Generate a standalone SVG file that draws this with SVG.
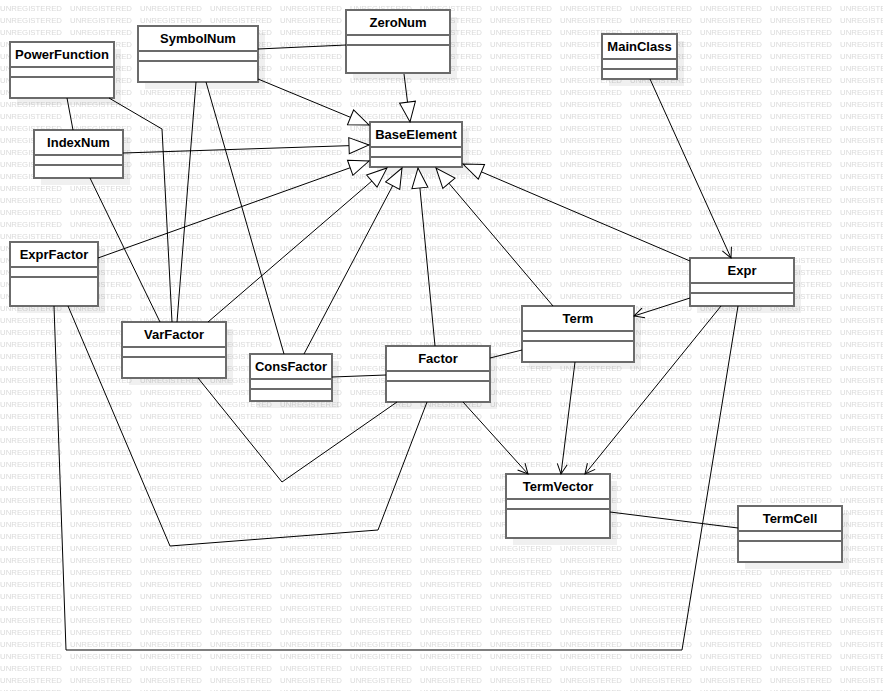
<svg xmlns="http://www.w3.org/2000/svg" width="883" height="691" viewBox="0 0 883 691">
<style>
.wm{font-family:"Liberation Sans",Arial,sans-serif;font-size:7.5px;fill:#dadada}
.sh{fill:#000;fill-opacity:0.06}
.box{fill:#fff;stroke:#6b6b6b;stroke-width:2}
.sep{stroke:#6b6b6b;stroke-width:2}
.t{font-family:"Liberation Sans",Arial,sans-serif;font-size:13px;font-weight:bold;fill:#000;text-anchor:middle}
.c{fill:none;stroke:#000;stroke-width:1}
.g{marker-end:url(#tri)}
.a{marker-end:url(#open)}
</style>
<defs>
<pattern id="wm" x="0" y="0" width="70" height="12" patternUnits="userSpaceOnUse">
<text class="wm" x="0" y="11" textLength="62" lengthAdjust="spacingAndGlyphs">UNREGISTERED</text>
</pattern>
<marker id="tri" viewBox="-1 -1 22 18" refX="20" refY="8" markerWidth="22" markerHeight="18" markerUnits="userSpaceOnUse" orient="auto">
<path d="M0,0 L20,8 L0,16 Z" fill="#fff" stroke="#000" stroke-width="1"/>
</marker>
<marker id="open" viewBox="-1 -1 12 12" refX="10" refY="5" markerWidth="12" markerHeight="12" markerUnits="userSpaceOnUse" orient="auto">
<path d="M0,0 L10,5 L0,10" fill="none" stroke="#000" stroke-width="1"/>
</marker>
</defs>
<rect x="0" y="0" width="883" height="691" fill="#fff"/>
<rect x="0" y="0" width="883" height="691" fill="url(#wm)"/>

<g id="PowerFunction"><rect class="sh" x="17" y="49" width="104" height="56"/><rect class="box" x="10" y="42" width="104" height="56"/><line class="sep" x1="10" y1="67" x2="114" y2="67"/><line class="sep" x1="10" y1="77" x2="114" y2="77"/><text class="t" x="62" y="59">PowerFunction</text></g>
<g id="SymbolNum"><rect class="sh" x="145" y="33" width="120" height="56"/><rect class="box" x="138" y="26" width="120" height="56"/><line class="sep" x1="138" y1="51" x2="258" y2="51"/><line class="sep" x1="138" y1="61" x2="258" y2="61"/><text class="t" x="198" y="43">SymbolNum</text></g>
<g id="ZeroNum"><rect class="sh" x="353" y="17" width="104" height="63"/><rect class="box" x="346" y="10" width="104" height="63"/><line class="sep" x1="346" y1="35" x2="450" y2="35"/><line class="sep" x1="346" y1="45" x2="450" y2="45"/><text class="t" x="398" y="27">ZeroNum</text></g>
<g id="MainClass"><rect class="sh" x="609" y="41" width="75" height="45"/><rect class="box" x="602" y="34" width="75" height="45"/><line class="sep" x1="602" y1="59" x2="677" y2="59"/><line class="sep" x1="602" y1="69" x2="677" y2="69"/><text class="t" x="639.5" y="51">MainClass</text></g>
<g id="BaseElement"><rect class="sh" x="377" y="129" width="92" height="45"/><rect class="box" x="370" y="122" width="92" height="45"/><line class="sep" x1="370" y1="147" x2="462" y2="147"/><line class="sep" x1="370" y1="157" x2="462" y2="157"/><text class="t" x="416" y="139">BaseElement</text></g>
<g id="IndexNum"><rect class="sh" x="41" y="137" width="89" height="48"/><rect class="box" x="34" y="130" width="89" height="48"/><line class="sep" x1="34" y1="155" x2="123" y2="155"/><line class="sep" x1="34" y1="165" x2="123" y2="165"/><text class="t" x="78.5" y="147">IndexNum</text></g>
<g id="ExprFactor"><rect class="sh" x="17" y="249" width="88" height="64"/><rect class="box" x="10" y="242" width="88" height="64"/><line class="sep" x1="10" y1="267" x2="98" y2="267"/><line class="sep" x1="10" y1="277" x2="98" y2="277"/><text class="t" x="54" y="259">ExprFactor</text></g>
<g id="Expr"><rect class="sh" x="697" y="265" width="104" height="48"/><rect class="box" x="690" y="258" width="104" height="48"/><line class="sep" x1="690" y1="283" x2="794" y2="283"/><line class="sep" x1="690" y1="293" x2="794" y2="293"/><text class="t" x="742" y="275">Expr</text></g>
<g id="Term"><rect class="sh" x="529" y="313" width="112" height="56"/><rect class="box" x="522" y="306" width="112" height="56"/><line class="sep" x1="522" y1="331" x2="634" y2="331"/><line class="sep" x1="522" y1="341" x2="634" y2="341"/><text class="t" x="578" y="323">Term</text></g>
<g id="VarFactor"><rect class="sh" x="129" y="329" width="104" height="56"/><rect class="box" x="122" y="322" width="104" height="56"/><line class="sep" x1="122" y1="347" x2="226" y2="347"/><line class="sep" x1="122" y1="357" x2="226" y2="357"/><text class="t" x="174" y="339">VarFactor</text></g>
<g id="ConsFactor"><rect class="sh" x="257" y="361" width="82" height="47"/><rect class="box" x="250" y="354" width="82" height="47"/><line class="sep" x1="250" y1="379" x2="332" y2="379"/><line class="sep" x1="250" y1="389" x2="332" y2="389"/><text class="t" x="291" y="371">ConsFactor</text></g>
<g id="Factor"><rect class="sh" x="393" y="353" width="104" height="56"/><rect class="box" x="386" y="346" width="104" height="56"/><line class="sep" x1="386" y1="371" x2="490" y2="371"/><line class="sep" x1="386" y1="381" x2="490" y2="381"/><text class="t" x="438" y="363">Factor</text></g>
<g id="TermVector"><rect class="sh" x="513" y="481" width="104" height="64"/><rect class="box" x="506" y="474" width="104" height="64"/><line class="sep" x1="506" y1="499" x2="610" y2="499"/><line class="sep" x1="506" y1="509" x2="610" y2="509"/><text class="t" x="558" y="491">TermVector</text></g>
<g id="TermCell"><rect class="sh" x="745" y="513" width="104" height="56"/><rect class="box" x="738" y="506" width="104" height="56"/><line class="sep" x1="738" y1="531" x2="842" y2="531"/><line class="sep" x1="738" y1="541" x2="842" y2="541"/><text class="t" x="790" y="523">TermCell</text></g>

<g id="connectors">
<line class="c" x1="258" y1="49" x2="346" y2="45"/>
<line class="c g" x1="258" y1="79" x2="369" y2="125"/>
<line class="c g" x1="404" y1="74" x2="410" y2="122"/>
<line class="c g" x1="123" y1="153" x2="369" y2="145"/>
<line class="c g" x1="98" y1="258" x2="369" y2="161"/>
<line class="c g" x1="208" y1="322" x2="387" y2="168"/>
<line class="c g" x1="304" y1="354" x2="402" y2="168"/>
<line class="c g" x1="435" y1="346" x2="418" y2="168"/>
<line class="c g" x1="553" y1="306" x2="436" y2="168"/>
<line class="c g" x1="690" y1="261" x2="463" y2="164"/>
<line class="c a" x1="650" y1="79" x2="731" y2="258"/>
<line class="c a" x1="690" y1="298" x2="634" y2="316"/>
<line class="c a" x1="721" y1="306" x2="585" y2="474"/>
<line class="c a" x1="575" y1="362" x2="561" y2="474"/>
<line class="c a" x1="463" y1="402" x2="528" y2="474"/>
<line class="c" x1="522" y1="350" x2="490" y2="358"/>
<line class="c" x1="332" y1="377" x2="386" y2="375"/>
<line class="c" x1="610" y1="512" x2="738" y2="528"/>
<line class="c" x1="67" y1="98" x2="73" y2="130"/>
<polyline class="c" points="109,98 162,129 172,322"/>
<line class="c" x1="196" y1="82" x2="177" y2="322"/>
<line class="c" x1="206" y1="82" x2="284" y2="354"/>
<line class="c" x1="90" y1="178" x2="160" y2="322"/>
<polyline class="c" points="198,378 282,482 397,402"/>
<polyline class="c" points="68,306 170,546 378,530 427,402"/>
<polyline class="c" points="54,306 66,650 682,650 738,306"/>
</g>
</svg>
